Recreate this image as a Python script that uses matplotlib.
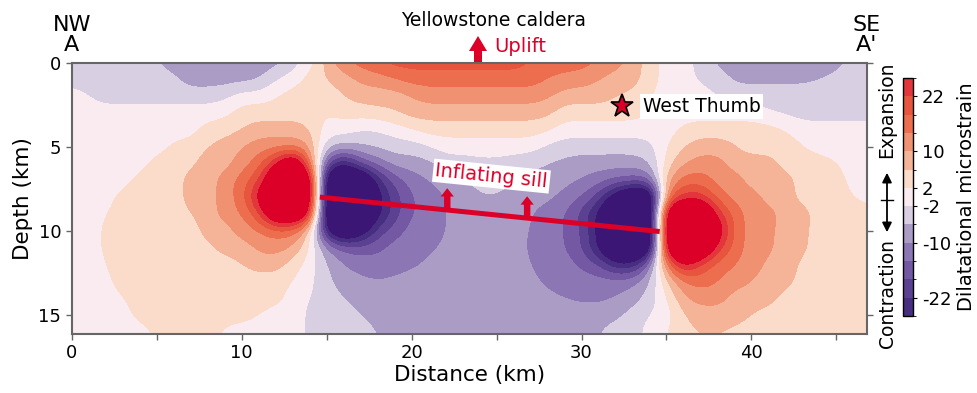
import matplotlib.pyplot as plt
import numpy as np
from matplotlib.colors import ListedColormap, BoundaryNorm
from matplotlib.cm import ScalarMappable
from matplotlib.patches import FancyArrow
from matplotlib.lines import Line2D

plt.rcParams['axes.unicode_minus'] = False

# Profile A-A' grid (km)
distance_km = list(range(48))
depth_km = list(range(17))

strain = [
    [-4, -4, -4, -4, -4, -6, -8, -8, -8, -8, -8, -8, -8, -4, 0, 8, 14, 16, 18, 20, 20, 20, 20, 20, 20, 20, 20, 18, 16, 16, 16, 14, 12, 8, 4, 0, 0, -4, -7, -8, -8, -8, -8, -8, -8, -7, -5, -4],
    [-4, -4, -4, -4, -4, -4, -5, -8, -8, -8, -8, -7, -2, 0, 4, 6, 8, 11, 12, 14, 16, 16, 16, 16, 16, 16, 16, 16, 14, 13, 12, 10, 8, 8, 4, 0, 0, -3, -4, -7, -7, -7, -7, -7, -6, -5, -4, -4],
    [0, -2, -4, -4, -4, -4, -4, -4, -4, -3, 0, 0, 2, 4, 4, 4, 6, 8, 8, 8, 10, 12, 12, 12, 12, 12, 12, 12, 11, 8, 8, 8, 6, 5, 2, 0, 0, 0, -2, -4, -4, -4, -4, -4, -4, -4, -4, -4],
    [0, 0, 0, 0, 0, 0, 0, 0, 0, 1, 4, 4, 4, 4, 4, 2, 4, 4, 5, 6, 8, 8, 8, 8, 8, 8, 8, 8, 7, 4, 4, 4, 4, 4, 2, 0, 0, 0, 0, 0, 0, -2, -3, -4, -4, -4, -4, -4],
    [0, 0, 0, 0, 0, 0, 0, 0, 4, 4, 6, 8, 8, 8, 6, 0, 0, -2, -2, 0, 2, 4, 4, 4, 4, 4, 4, 4, 3, 0, 0, 0, 0, 0, 0, 0, 3, 4, 4, 4, 4, 4, 2, 0, 0, 0, 0, 0],
    [0, 0, 0, 0, 0, 0, 3, 4, 6, 8, 10, 12, 12, 12, 10, -5, -6, -6, -5, -4, -4, -2, 0, 0, 0, 0, 0, 0, -3, -4, -4, -4, -4, -4, -3, 2, 6, 8, 8, 6, 4, 4, 4, 2, 0, 0, 0, 0],
    [0, 0, 0, 0, 0, 4, 4, 5, 8, 8, 12, 16, 26, 40, 16, -18, -28, -16, -12, -8, -8, -7, -4, -4, -3, -3, -4, -5, -6, -7, -8, -8, -8, -8, -6, 4, 10, 12, 12, 8, 8, 8, 4, 4, 4, 2, 0, 0],
    [0, 0, 0, 0, 4, 4, 4, 8, 8, 12, 16, 21, 40, 40, 40, -40, -40, -40, -24, -16, -12, -10, -8, -6, -5, -5, -6, -7, -8, -9, -10, -12, -14, -15, -14, 10, 16, 16, 12, 12, 8, 8, 8, 4, 4, 4, 0, 0],
    [0, 0, 0, 4, 4, 4, 4, 8, 8, 12, 16, 30, 40, 40, 40, -40, -40, -40, -28, -20, -14, -12, -10, -8, -6, -6, -7, -8, -9, -11, -14, -20, -32, -40, -40, 16, 24, 24, 16, 12, 12, 8, 8, 4, 4, 4, 2, 0],
    [0, 0, 2, 4, 4, 4, 4, 6, 8, 12, 14, 21, 40, 40, 32, -40, -40, -40, -28, -20, -14, -12, -10, -8, -8, -8, -8, -10, -12, -14, -20, -28, -40, -40, -40, 40, 40, 40, 24, 16, 12, 12, 8, 8, 4, 4, 4, 4],
    [0, 0, 3, 4, 4, 4, 4, 4, 8, 8, 12, 14, 16, 16, 6, -30, -40, -32, -20, -16, -12, -12, -10, -8, -8, -8, -9, -10, -12, -14, -18, -28, -40, -40, -40, 40, 40, 40, 32, 16, 12, 11, 8, 7, 4, 4, 4, 4],
    [0, 0, 3, 4, 4, 4, 4, 4, 5, 8, 8, 11, 12, 10, 2, -10, -15, -16, -15, -12, -12, -11, -9, -8, -8, -8, -8, -11, -12, -14, -18, -28, -40, -40, -40, 40, 40, 40, 24, 16, 12, 11, 8, 7, 4, 4, 4, 4],
    [0, 0, 2, 4, 4, 4, 4, 4, 4, 4, 6, 8, 8, 4, 0, -6, -10, -12, -12, -12, -11, -9, -8, -8, -8, -8, -8, -10, -12, -12, -15, -18, -26, -26, -12, 16, 30, 21, 16, 14, 12, 9, 8, 5, 4, 4, 4, 4],
    [0, 0, 1, 4, 4, 4, 4, 4, 4, 4, 4, 4, 4, 2, -1, -5, -8, -9, -10, -9, -8, -8, -8, -8, -8, -8, -8, -9, -11, -12, -12, -12, -12, -11, -6, 6, 14, 16, 14, 12, 10, 8, 8, 4, 4, 4, 4, 4],
    [0, 0, 0, 2, 4, 4, 4, 4, 4, 4, 4, 4, 4, 0, -2, -4, -6, -8, -8, -8, -8, -8, -8, -8, -8, -8, -8, -8, -9, -10, -11, -11, -10, -8, -4, 2, 10, 12, 12, 8, 8, 8, 4, 4, 4, 4, 4, 4],
    [0, 0, 0, 0, 4, 4, 4, 4, 4, 4, 4, 2, 0, 0, -3, -4, -4, -6, -8, -8, -8, -8, -8, -8, -8, -8, -8, -8, -8, -8, -8, -8, -7, -4, -2, 0, 6, 8, 8, 8, 6, 4, 4, 4, 4, 4, 4, 4],
    [0, 0, 0, 0, 0, 3, 4, 4, 4, 1, 0, 0, 0, 0, -3, -4, -4, -4, -6, -8, -8, -8, -8, -8, -8, -8, -8, -8, -8, -8, -8, -6, -4, -4, 0, 2, 5, 6, 6, 5, 4, 4, 4, 4, 4, 4, 4, 4],
]

levels = [-26, -22, -18, -14, -10, -6, -2, 2, 6, 10, 14, 18, 22, 26]
band_colors = ['#482e80', '#5c4192', '#7458a4', '#8c77b4', '#ab9cc6', '#d9cfe3', '#f9ebef',
               '#fbdccb', '#f5b497', '#f09272', '#ec6e4f', '#e8553e', '#e3363c']
under_color = '#3c1675'
over_color = '#dc0029'
cbar_ticks = [-22, -10, -2, 2, 10, 22]

# Sill and markers
sill_distance = [14.6, 34.6]
sill_depth = [8.0, 10.05]
push_distance = [22.1, 26.8]
west_thumb = [32.4, 2.6]

red = '#dc0029'
grey = '#666666'

fig = plt.figure(figsize=(9.77, 3.93), dpi=100)
ax = fig.add_axes([0.0734, 0.1501, 0.814, 0.6903])

def draw_field():
    cmap = ListedColormap(band_colors)
    cmap.set_under(under_color)
    cmap.set_over(over_color)
    norm = BoundaryNorm(levels, cmap.N)
    extent = (distance_km[0] - 0.5, distance_km[-1] + 0.5,
              depth_km[-1] + 0.5, depth_km[0] - 0.5)
    ax.imshow(np.array(strain, dtype=float), cmap=cmap, norm=norm, extent=extent,
              interpolation='bicubic', interpolation_stage='data', aspect='auto')

def draw_sill():
    ax.plot(sill_distance, sill_depth, color=red, lw=3.6, solid_capstyle='butt')
    for x in push_distance:
        z0 = np.interp(x, sill_distance, sill_depth)
        ax.add_patch(FancyArrow(x, z0, 0, -1.3, width=0.38, head_width=0.78,
                                head_length=0.5, length_includes_head=True,
                                color=red, lw=0))
    ax.text(24.7, 6.75, 'Inflating sill', color=red, fontsize=14,
            rotation=-5.8, rotation_mode='anchor', ha='center', va='center',
            bbox=dict(facecolor='white', edgecolor='none', pad=1.5))

def draw_labels():
    ax.plot(west_thumb[0], west_thumb[1], marker='*', ms=17, mfc=red, mec='black', mew=1.2)
    ax.text(west_thumb[0] + 1.2, west_thumb[1], 'West Thumb', fontsize=13.5, va='center',
            bbox=dict(facecolor='white', edgecolor='none', pad=2))
    ax.text(0, 1.03, 'NW\nA', transform=ax.transAxes, ha='center', va='bottom',
            fontsize=16, linespacing=0.95)
    ax.text(1, 1.03, "SE\nA'", transform=ax.transAxes, ha='center', va='bottom',
            fontsize=16, linespacing=0.95)
    fig.text(494 / 977, 1 - 21 / 393, 'Yellowstone caldera', ha='center', va='center', fontsize=13.5)
    fig.text(494 / 977, 1 - 46 / 393, 'Uplift', ha='left', va='center', fontsize=14, color=red)
    fig.patches.append(FancyArrow(478 / 977, 1 - 62 / 393, 0, 26 / 393, width=8 / 977,
                                  head_width=18 / 977, head_length=15 / 393,
                                  length_includes_head=True, color=red, lw=0,
                                  transform=fig.transFigure, figure=fig))

def style_axes():
    ax.set_xlim(0, 46.8)
    ax.set_ylim(16.15, 0)
    ax.set_xticks([0, 10, 20, 30, 40])
    ax.set_xticks([5, 15, 25, 35, 45], minor=True)
    ax.set_yticks([0, 5, 10, 15])
    ax.tick_params(which='both', direction='out', length=4, width=1, color=grey,
                   labelsize=13, right=True, top=False)
    for s in ax.spines.values():
        s.set_color(grey)
        s.set_linewidth(1.5)
    ax.set_xlabel('Distance (km)', fontsize=15.5, labelpad=2)
    ax.set_ylabel('Depth (km)', fontsize=15.5, labelpad=4)

def draw_colorbar():
    cax = fig.add_axes([903 / 977, 1 - 316 / 393, 10 / 977, 238 / 393])
    sm = ScalarMappable(norm=BoundaryNorm(levels, len(band_colors)),
                        cmap=ListedColormap(band_colors))
    cb = fig.colorbar(sm, cax=cax, ticks=cbar_ticks)
    cb.ax.tick_params(labelsize=13, length=3)
    cb.set_label('Dilatational microstrain', fontsize=14, labelpad=4)
    cb.outline.set_linewidth(1)
    fig.text(887 / 977, 1 - 110 / 393, 'Expansion', rotation=90, ha='center', va='center', fontsize=13.5)
    fig.text(887 / 977, 1 - 294 / 393, 'Contraction', rotation=90, ha='center', va='center', fontsize=13.5)
    ax.annotate('', xy=(887 / 977, 1 - 170 / 393), xytext=(887 / 977, 1 - 235 / 393),
                xycoords='figure fraction', textcoords='figure fraction',
                arrowprops=dict(arrowstyle='<|-|>', color='black', lw=1.3, mutation_scale=14))
    fig.add_artist(Line2D([881 / 977, 893 / 977], [1 - 200 / 393] * 2, color='black', lw=1))

draw_field()
draw_sill()
draw_labels()
style_axes()
draw_colorbar()

fig.savefig('out.png', dpi=100)
